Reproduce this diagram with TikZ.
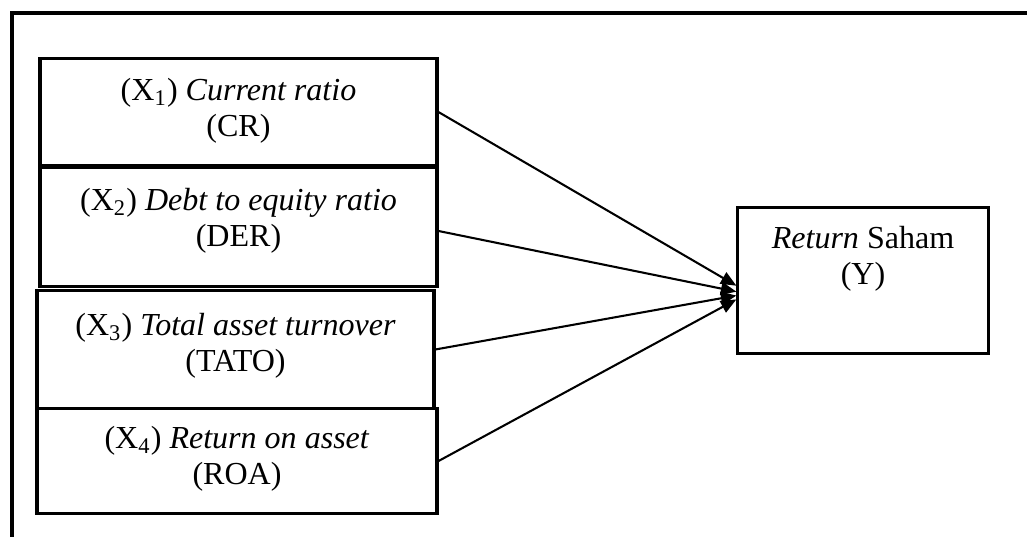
\documentclass[tikz,border=0pt]{standalone}
\usepackage{fontspec}
\setmainfont{Liberation Serif}
\usetikzlibrary{arrows.meta}
\begin{document}
\begin{tikzpicture}[
            x=0.387pt, y=-0.387pt,
            box/.style={rectangle, draw, line width=1.2pt, anchor=north, inner ysep=0pt, align=center, font=\fontsize{12.4}{13.8}\selectfont},
            arrow/.style={-{Triangle[length=6pt,width=5pt]}, line width=0.8pt}
        ]
            \useasboundingbox (0,0) rectangle (1027,537);
            \draw[line width=1.35pt] (12,537) -- (12,13) -- (1027,13);

            \node[box, minimum width=153.6pt, text height=30.2pt, text depth=11.2pt] (cr) at (238.5,57) {(X\textsubscript{1}) \textit{Current ratio}\\(CR)};
            \node[box, minimum width=153.6pt, text height=30.6pt, text depth=15.5pt] (der) at (238.5,166) {(X\textsubscript{2}) \textit{Debt to equity ratio}\\(DER)};
            \node[box, minimum width=153.6pt, text height=31.3pt, text depth=14.3pt] (tato) at (235.5,289) {(X\textsubscript{3}) \textit{Total asset turnover}\\(TATO)};
            \node[box, minimum width=154.8pt, text height=29.4pt, text depth=11.2pt] (roa) at (237,407) {(X\textsubscript{4}) \textit{Return on asset}\\(ROA)};
            \node[box, minimum width=96.8pt, text height=29.8pt, text depth=26.7pt] (ret) at (863,206) {\textit{Return} Saham\\(Y)};

            \draw[arrow] (cr.east) -- ([yshift=-2pt]ret.west);
            \draw[arrow] ([yshift=-1.5pt]der.east) -- ([yshift=-4.3pt]ret.west);
            \draw[arrow] (tato.east) -- ([yshift=-5.8pt]ret.west);
            \draw[arrow] (roa.east) -- ([yshift=-7.3pt]ret.west);
        \end{tikzpicture}
\end{document}
